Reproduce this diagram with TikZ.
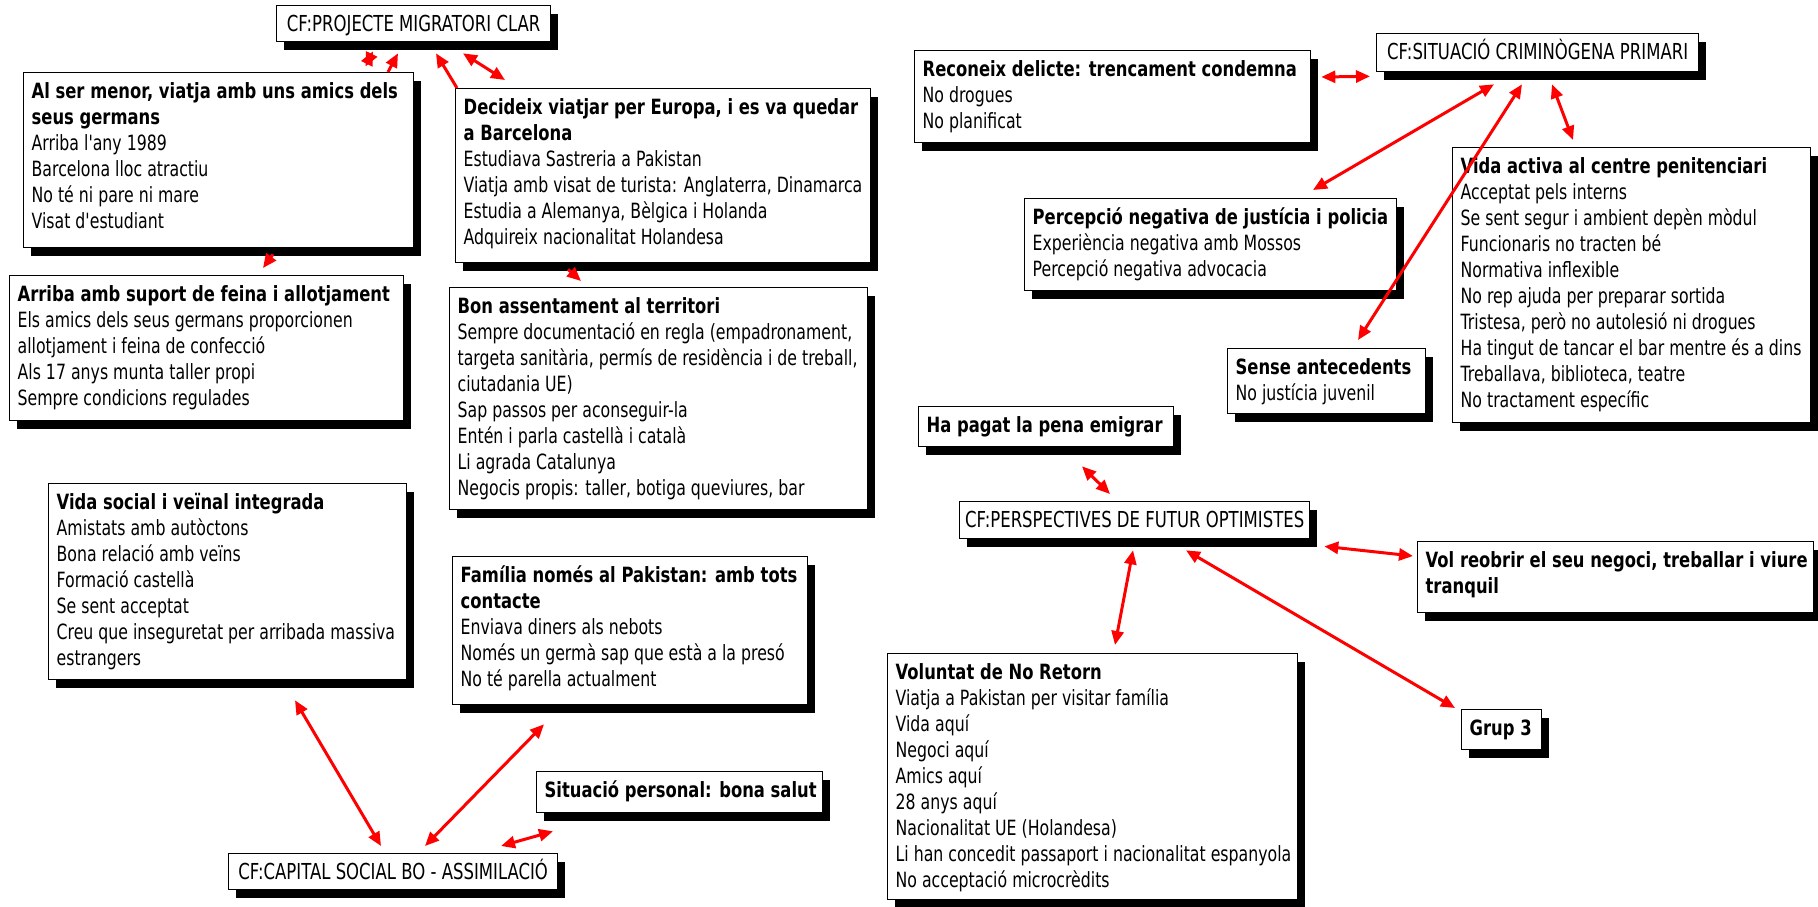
\documentclass[tikz,border=0pt]{standalone}
\usepackage{fontspec}
\setmainfont{DejaVu Sans}[Ligatures=TeXOff,UprightFeatures={FakeStretch=0.75},BoldFeatures={FakeStretch=0.78}]
\usetikzlibrary{arrows.meta,shadows}

% body of a text card: width, height, lines (first baseline 26pt below the top)
\newcommand\cardbody[3]{%
  \vbox to #2pt{\hbox to \dimexpr #1pt-16pt\relax{\vtop{\hsize=1200pt\parindent=0pt\raggedright\rule{0pt}{26pt}#3}\hss}\vss}}
% body of a central-factor card: one centred line
\newcommand\cfbody[3]{%
  \vbox to #2pt{\hbox to \dimexpr #1pt-16pt\relax{\hss\rule{0pt}{26pt}#3\hss}\vss}}

\tikzset{
  card/.style={draw=black, line width=1.3pt, fill=white, inner xsep=8pt, inner ysep=0pt,
    anchor=north west,
    drop shadow={shadow xshift=7.5pt, shadow yshift=-8pt, fill=black, opacity=1}},
  cf/.style={card, font=\fontsize{22}{26}\selectfont},
  twoway/.style={draw=red, line width=3pt, >={Triangle[length=14pt,width=12pt]}, <->},
  oneway/.style={draw=red, line width=3pt, >={Triangle[length=14pt,width=12pt]}, ->}
}

\begin{document}
\begin{tikzpicture}[x=1pt, y=-1pt, font=\fontsize{21}{26}\selectfont]
\fill[white] (0,0) rectangle (1818,906);
\useasboundingbox (0,0) rectangle (1818,906);

% ---- migration project cluster
\node[cf] (proj) at (276,5) {\cfbody{274}{36}{CF:PROJECTE MIGRATORI CLAR}};
\node[card] (menor) at (23,72) {\cardbody{390}{175}{%
  \textbf{Al ser menor, viatja amb uns amics dels}\\
  \textbf{seus germans}\\
  Arriba l'any 1989\\
  Barcelona lloc atractiu\\
  No té ni pare ni mare\\
  Visat d'estudiant}};
\node[card] (decid) at (455,88) {\cardbody{415}{174}{%
  \textbf{Decideix viatjar per Europa, i es va quedar}\\
  \textbf{a Barcelona}\\
  Estudiava Sastreria a Pakistan\\
  Viatja amb visat de turista: Anglaterra, Dinamarca\\
  Estudia a Alemanya, Bèlgica i Holanda\\
  Adquireix nacionalitat Holandesa}};
\node[card] (arriba) at (9,275) {\cardbody{394}{145}{%
  \textbf{Arriba amb suport de feina i allotjament}\\
  Els amics dels seus germans proporcionen\\
  allotjament i feina de confecció\\
  Als 17 anys munta taller propi\\
  Sempre condicions regulades}};
\node[card] (bon) at (449,287) {\cardbody{418}{222}{%
  \textbf{Bon assentament al territori}\\
  Sempre documentació en regla (empadronament,\\
  targeta sanitària, permís de residència i de treball,\\
  ciutadania UE)\\
  Sap passos per aconseguir-la\\
  Entén i parla castellà i català\\
  Li agrada Catalunya\\
  Negocis propis: taller, botiga queviures, bar}};

% ---- social capital cluster
\node[card] (social) at (48,483) {\cardbody{358}{196}{%
  \textbf{Vida social i veïnal integrada}\\
  Amistats amb autòctons\\
  Bona relació amb veïns\\
  Formació castellà\\
  Se sent acceptat\\
  Creu que inseguretat per arribada massiva\\
  estrangers}};
\node[card] (fam) at (452,556) {\cardbody{355}{148}{%
  \textbf{Família només al Pakistan: amb tots}\\
  \textbf{contacte}\\
  Enviava diners als nebots\\
  Només un germà sap que està a la presó\\
  No té parella actualment}};
\node[card] (sitper) at (536,771) {\cardbody{286}{41}{%
  \textbf{Situació personal: bona salut}}};
\node[cf] (capital) at (228,853) {\cfbody{329}{36}{CF:CAPITAL SOCIAL BO - ASSIMILACIÓ}};

% ---- criminogenic situation cluster
\node[card] (recon) at (914,50) {\cardbody{396}{92}{%
  \textbf{Reconeix delicte: trencament condemna}\\
  No drogues\\
  No planificat}};
\node[cf] (situ) at (1376,33) {\cfbody{322}{38}{CF:SITUACIÓ CRIMINÒGENA PRIMARI}};
\node[card] (perc) at (1024,198) {\cardbody{372}{92}{%
  \textbf{Percepció negativa de justícia i policia}\\
  Experiència negativa amb Mossos\\
  Percepció negativa advocacia}};
\node[card] (vidact) at (1452,147) {\cardbody{358}{275}{%
  \textbf{Vida activa al centre penitenciari}\\
  Acceptat pels interns\\
  Se sent segur i ambient depèn mòdul\\
  Funcionaris no tracten bé\\
  Normativa inflexible\\
  No rep ajuda per preparar sortida\\
  Tristesa, però no autolesió ni drogues\\
  Ha tingut de tancar el bar mentre és a dins\\
  Treballava, biblioteca, teatre\\
  No tractament específic}};
\node[card] (sense) at (1227,348) {\cardbody{198}{65}{%
  \textbf{Sense antecedents}\\
  No justícia juvenil}};

% ---- future perspectives cluster
\node[card] (hapagat) at (918,406) {\cardbody{255}{40}{%
  \textbf{Ha pagat la pena emigrar}}};
\node[cf] (persp) at (959,501) {\cfbody{350}{37}{CF:PERSPECTIVES DE FUTUR OPTIMISTES}};
\node[card] (volreo) at (1417,541) {\cardbody{396}{71}{%
  \textbf{Vol reobrir el seu negoci, treballar i viure}\\
  \textbf{tranquil}}};
\node[card] (voluntat) at (887,653) {\cardbody{410}{246}{%
  \textbf{Voluntat de No Retorn}\\
  Viatja a Pakistan per visitar família\\
  Vida aquí\\
  Negoci aquí\\
  Amics aquí\\
  28 anys aquí\\
  Nacionalitat UE (Holandesa)\\
  Li han concedit passaport i nacionalitat espanyola\\
  No acceptació microcrèdits}};
\node[card] (grup) at (1461,709) {\cardbody{80}{40}{\textbf{Grup 3}}};

% ---- relationships
\draw[twoway] ([shift={(342.5,-5.5)}]menor.north west) -- ([shift={(97,9)}]proj.south west);
\draw[oneway] ([shift={(365,0)}]menor.north west) -- ([shift={(122,11)}]proj.south west);
\draw[oneway] ([shift={(2,0)}]decid.north west) -- ([shift={(160,11)}]proj.south west);
\draw[twoway] ([shift={(187,11)}]proj.south west) -- ([shift={(50,-8)}]decid.north west);
\draw[oneway] ([shift={(250,6)}]menor.south west) -- ([shift={(254,-7)}]arriba.north west);
\draw[oneway] ([shift={(113,6)}]decid.south west) -- ([shift={(132,-6)}]bon.north west);

\draw[twoway] ([shift={(247,20)}]social.south west) -- ([shift={(153,-7)}]capital.north west);
\draw[twoway] ([shift={(92,19)}]fam.south west) -- ([shift={(197,-7)}]capital.north west);
\draw[twoway] ([shift={(273,-7)}]capital.north west) -- ([shift={(17,18)}]sitper.south west);

\draw[twoway] ([shift={(10,27)}]recon.north east) -- ([shift={(-6,4)}]situ.south west);
\draw[twoway] ([shift={(118,12)}]situ.south west) -- ([shift={(289,-8)}]perc.north west);
\draw[twoway] ([shift={(146,12)}]situ.south west) -- ([shift={(131,-8)}]sense.north west);
\draw[twoway] ([shift={(176,12)}]situ.south west) -- ([shift={(121,-7)}]vidact.north west);

\draw[twoway] ([shift={(164,19)}]hapagat.south west) -- ([shift={(151,-7)}]persp.north west);
\draw[twoway] ([shift={(14,7)}]persp.south east) -- ([shift={(-4,15)}]volreo.north west);
\draw[twoway] ([shift={(174,11)}]persp.south west) -- ([shift={(228,-8)}]voluntat.north west);
\draw[twoway] ([shift={(227,11)}]persp.south west) -- ([shift={(-6,-1)}]grup.north west);
\end{tikzpicture}
\end{document}
